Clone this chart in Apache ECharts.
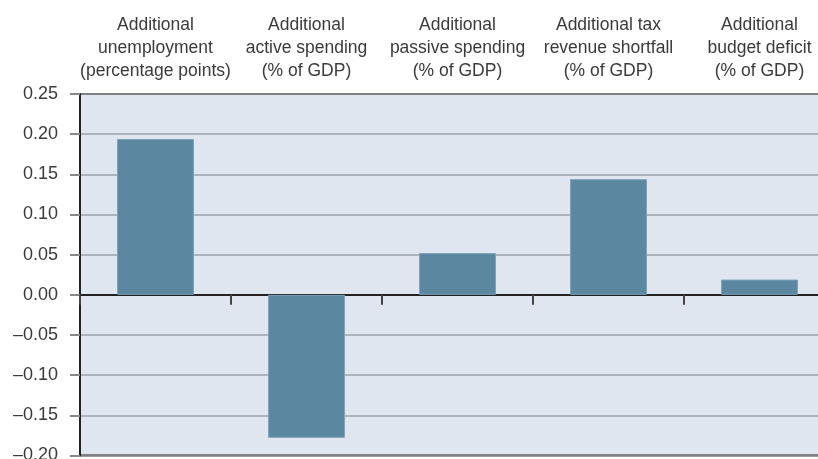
<!DOCTYPE html>
<html><head><meta charset="utf-8">
<script src="https://cdn.jsdelivr.net/npm/echarts@6/dist/echarts.min.js"></script>
<style>html,body{margin:0;padding:0;background:#fff}#c{width:818px;height:459px}</style>
</head><body><div id="c"></div>
<script>
const categories = [
  'Additional\nunemployment\n(percentage points)',
  'Additional\nactive spending\n(% of GDP)',
  'Additional\npassive spending\n(% of GDP)',
  'Additional tax\nrevenue shortfall\n(% of GDP)',
  'Additional\nbudget deficit\n(% of GDP)'
];
const values = [0.194, -0.178, 0.052, 0.144, 0.019];
const yMin = -0.20, yMax = 0.25, yStep = 0.05;

const font = 'Liberation Sans, Arial, sans-serif';
const chart = echarts.init(document.getElementById('c'), null, {renderer: 'canvas'});
chart.setOption({
  animation: false,
  grid: {left: 80, top: 94, width: 755, bottom: 3.5, show: true, backgroundColor: '#dfe6ef',
         borderColor: '#222', borderWidth: 2, containLabel: false, outerBoundsMode: 'none'},
  xAxis: [{
    type: 'category', data: categories, position: 'bottom',
    axisLine: {onZero: true, lineStyle: {color: '#222', width: 2}},
    axisTick: {show: true, length: 10, alignWithLabel: false, lineStyle: {color: '#444', width: 2}},
    axisLabel: {show: false}, splitLine: {show: false}
  }, {
    type: 'category', data: categories, position: 'top',
    axisLine: {show: false}, axisTick: {show: false},
    axisLabel: {show: true, interval: 0, margin: 11, fontFamily: font, fontSize: 17.5, color: '#3a3a3a', lineHeight: 23, align: 'center', hideOverlap: false}
  }],
  yAxis: {
    type: 'value', min: yMin, max: yMax, interval: yStep,
    axisLine: {show: true, lineStyle: {color: '#222', width: 2}},
    axisTick: {show: true, length: 10, lineStyle: {color: '#888', width: 2}},
    axisLabel: {margin: 22, fontFamily: font, fontSize: 18, color: '#3a3a3a',
      formatter: v => (v < 0 ? '\u2013' : '') + Math.abs(v).toFixed(2)},
    splitLine: {show: true, lineStyle: {color: '#9da2a8', width: 1.5}}
  },
  series: [{
    type: 'bar', data: values, xAxisIndex: 0, barWidth: '51%',
    itemStyle: {color: '#5b87a1', borderColor: '#7fa3b8', borderWidth: 1}
  }]
});
</script></body></html>
